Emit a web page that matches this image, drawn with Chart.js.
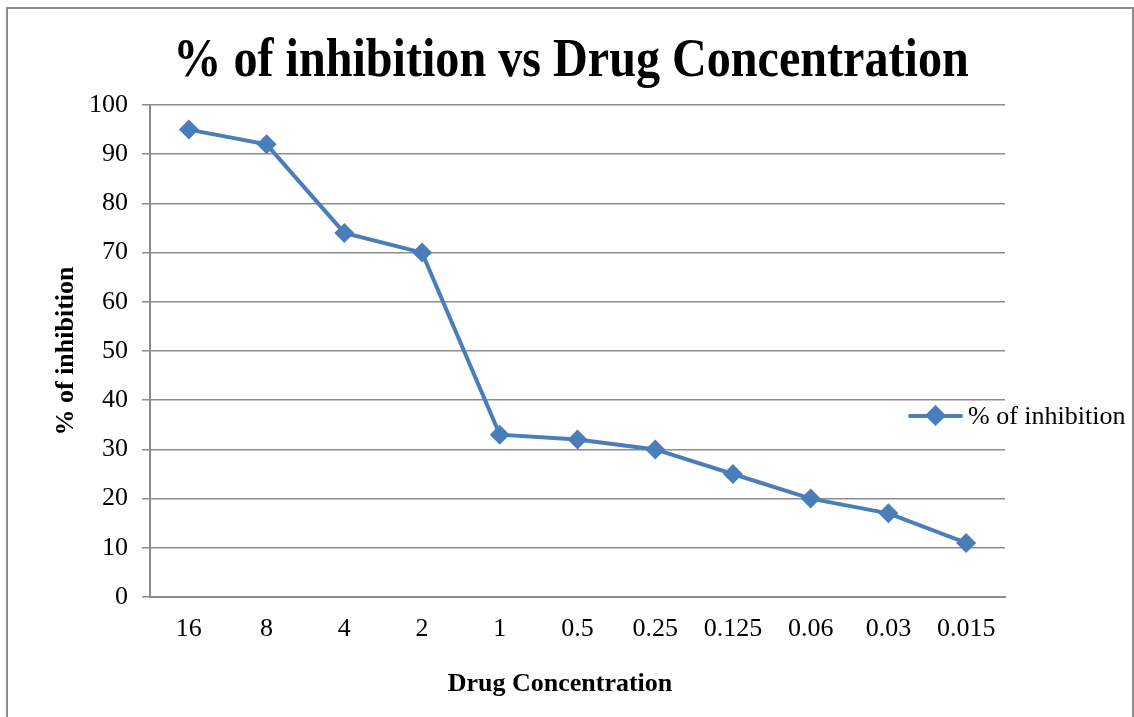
<!DOCTYPE html>
<html>
<head>
<meta charset="utf-8">
<script src="https://cdn.jsdelivr.net/npm/chart.js@4.4.1/dist/chart.umd.min.js"></script>
<style>
  html, body { margin: 0; padding: 0; background: #fff; }
  #wrap { position: relative; width: 1134px; height: 717px; overflow: hidden; }
  #frame { position: absolute; left: 6px; top: 7px; width: 1124px; height: 720px;
           border-left: 2px solid #8c8c8c; border-top: 2px solid #8c8c8c; border-right: 2px solid #8c8c8c; pointer-events: none; }
  #title { position: absolute; left: 571px; top: 25px; white-space: nowrap;
           font-family: 'Liberation Serif', 'Times New Roman', serif; font-weight: bold; font-size: 55px; line-height: 66px; color: #000;
           transform: translateX(-50%) scaleX(0.875); transform-origin: center; }
  #xtitle { position: absolute; left: 560px; top: 667px; white-space: nowrap; transform: translateX(-50%);
           font-family: 'Liberation Serif', 'Times New Roman', serif; font-weight: bold; font-size: 26px; line-height: 32px; color: #000; }
  #legend { position: absolute; left: 908px; top: 400px; height: 32px; display: flex; align-items: center;
            font-family: 'Liberation Serif', 'Times New Roman', serif; font-size: 26px; color: #000; white-space: nowrap; }
  #legend .mk { position: relative; width: 55px; height: 20px; margin-right: 5px; }
  #legend .ln { position: absolute; left: 0; right: 0; top: 8px; height: 4px; background: #4a7ebb; border-radius: 2px; }
  #legend .dm { position: absolute; left: 20px; top: 2px; width: 15px; height: 15px; background: #4a7ebb; transform: rotate(45deg); }
</style>
</head>
<body>
<div id="wrap">
  <canvas id="c" width="1134" height="717"></canvas>
  <div id="frame"></div>
  <div id="title"></div>
  <div id="xtitle"></div>
  <div id="legend"><div class="mk"><div class="ln"></div><div class="dm"></div></div><span id="legtext"></span></div>
</div>
<script>
const categories = ['16', '8', '4', '2', '1', '0.5', '0.25', '0.125', '0.06', '0.03', '0.015'];
const inhibition = [95, 92, 74, 70, 33, 32, 30, 25, 20, 17, 11];
const seriesName = '% of inhibition';
const chartTitle = '% of inhibition vs Drug Concentration';
const xTitle = 'Drug Concentration';
const yTitle = '% of inhibition';

document.getElementById('title').textContent = chartTitle;
document.getElementById('xtitle').textContent = xTitle;
document.getElementById('legtext').textContent = seriesName;

const serif = "'Liberation Serif', 'Times New Roman', serif";
const canvas = document.getElementById('c');
new Chart(canvas, {
  type: 'line',
  data: {
    labels: categories,
    datasets: [{
      label: seriesName,
      data: inhibition,
      borderColor: '#4a7ebb',
      backgroundColor: '#4a7ebb',
      borderWidth: 4,
      pointStyle: 'rectRot',
      pointRadius: 10,
      pointHoverRadius: 10,
      pointBorderWidth: 0,
      tension: 0
    }]
  },
  options: {
    responsive: false,
    animation: false,
    devicePixelRatio: 1,
    layout: { padding: { left: 47, right: 129, top: 105, bottom: 16 } },
    plugins: {
      legend: { display: false },
      tooltip: { enabled: false },
      title: { display: false }
    },
    scales: {
      x: {
        offset: true,
        grid: { display: false, drawTicks: false, offset: true },
        border: { display: true, color: '#8c8c8c', width: 2 },
        ticks: { color: '#000', font: { family: serif, size: 26 }, padding: 17, maxRotation: 0, autoSkip: false },
        title: { display: false },
        afterFit: s => { s.height = 104; }
      },
      y: {
        min: 0, max: 100,
        ticks: { stepSize: 10, color: '#000', font: { family: serif, size: 26 }, padding: 14 },
        grid: { color: '#8c8c8c', lineWidth: 1.5, tickLength: 8, drawTicks: true },
        border: { display: true, color: '#8c8c8c', width: 2 },
        title: { display: true, text: yTitle, color: '#000', font: { family: serif, size: 26, weight: 'bold' }, padding: 4 },
        afterFit: s => { s.width = 103; }
      }
    }
  }
});
</script>
</body>
</html>
